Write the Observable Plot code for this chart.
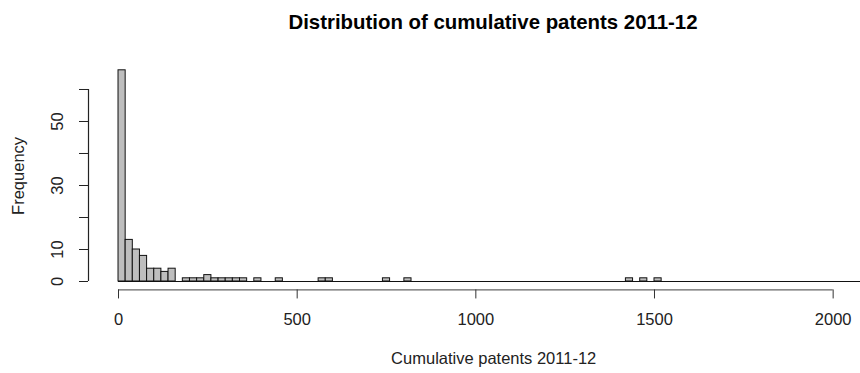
<!DOCTYPE html>
<html>
<head>
<meta charset="utf-8">
<script src="https://cdn.jsdelivr.net/npm/d3@7"></script>
<script src="https://cdn.jsdelivr.net/npm/@observablehq/plot@0.6"></script>
<style>
  html, body { margin: 0; padding: 0; background: #fff; overflow: hidden; }
  #title {
    box-sizing: border-box; width: 860px; height: 44px; line-height: 44px;
    padding-left: 126px; text-align: center;
    font-family: "Liberation Sans", Arial, sans-serif; font-weight: bold; font-size: 20.4px; color: #000;
    white-space: nowrap;
  }
  #chart svg { display: block; font-family: "Liberation Sans", Arial, sans-serif; }
</style>
</head>
<body>
<div id="title">Distribution of cumulative patents 2011-12</div>
<div id="chart"></div>
<script>
// ---- data (bin width 20) ----
const binWidth = 20;
const binStart = [0, 20, 40, 60, 80, 100, 120, 140, 180, 200, 220, 240, 260, 280, 300, 320, 340, 380, 440, 560, 580, 740, 800, 1420, 1460, 1500];
const binCount = [66, 13, 10, 8, 4, 4, 3, 4, 1, 1, 1, 2, 1, 1, 1, 1, 1, 1, 1, 1, 1, 1, 1, 1, 1, 1];
const breaksRange = [0, 2100];          // range of histogram breaks (xlim)
const xTicks = [0, 500, 1000, 1500, 2000];
const yTicks = [0, 10, 20, 30, 40, 50, 60];
const yTickLabels = [0, 10, 30, 50];     // labels R kept (others dropped for overlap)
const xLabel = "Cumulative patents 2011-12";
const yLabel = "Frequency";

const bins = binStart.map((s, i) => ({x0: s, x1: s + binWidth, count: binCount[i]}));

// R-style user coordinates: limits extended by 4%
const ylim = [0, d3.max(binCount)];
const ext = (lim) => { const d = (lim[1] - lim[0]) * 0.04; return [lim[0] - d, lim[1] + d]; };
const usrX = ext(breaksRange);
const usrY = ext(ylim);

const W = 860, H = 329;
const fs = 16.5;

const chart = Plot.plot({
  width: W,
  height: H,
  marginLeft: 88,
  marginRight: 0,
  marginTop: 17.35,
  marginBottom: 83.55,
  style: {background: "#fff", color: "#222"},
  x: {domain: usrX, range: [88, 898.4], axis: null},
  y: {domain: usrY, axis: null},
  marks: [
    // zero-count bins draw along the baseline
    Plot.ruleY([0], {x1: breaksRange[0], x2: breaksRange[1], stroke: "#111", strokeWidth: 1}),
    Plot.rectY(bins, {x1: "x0", x2: "x1", y1: 0, y2: "count", fill: "#BEBEBE", stroke: "#111", strokeWidth: 1}),
    // x axis
    Plot.ruleY([usrY[0]], {x1: xTicks[0], x2: xTicks[xTicks.length - 1], stroke: "#666", strokeWidth: 1.3}),
    Plot.axisX({ticks: xTicks, anchor: "bottom", tickSize: 9, tickPadding: 14.5, fontSize: fs,
                tickFormat: d => String(d), label: null, stroke: "#333", fill: "#222"}),
    // y axis
    Plot.ruleX([usrX[0]], {y1: yTicks[0], y2: yTicks[yTicks.length - 1], stroke: "#222", strokeWidth: 1.2}),
    Plot.axisY({ticks: yTicks, anchor: "left", tickSize: 9, tickFormat: () => "", label: null, stroke: "#222"}),
    Plot.text(yTickLabels, {y: d => d, text: d => String(d), frameAnchor: "left", dx: -31, rotate: -90,
                            fontSize: fs, fill: "#222", textAnchor: "middle", lineAnchor: "middle"}),
    // axis titles
    Plot.text([yLabel], {y: (usrY[0] + usrY[1]) / 2, text: d => d, frameAnchor: "left", dx: -69.5, rotate: -90,
                         fontSize: fs, fill: "#222", textAnchor: "middle", lineAnchor: "middle"}),
    Plot.text([xLabel], {x: (usrX[0] + usrX[1]) / 2, text: d => d, frameAnchor: "bottom", dy: 68.5,
                         fontSize: fs, fill: "#222", textAnchor: "middle", lineAnchor: "middle"})
  ]
});
document.getElementById("chart").appendChild(chart);
</script>
</body>
</html>
